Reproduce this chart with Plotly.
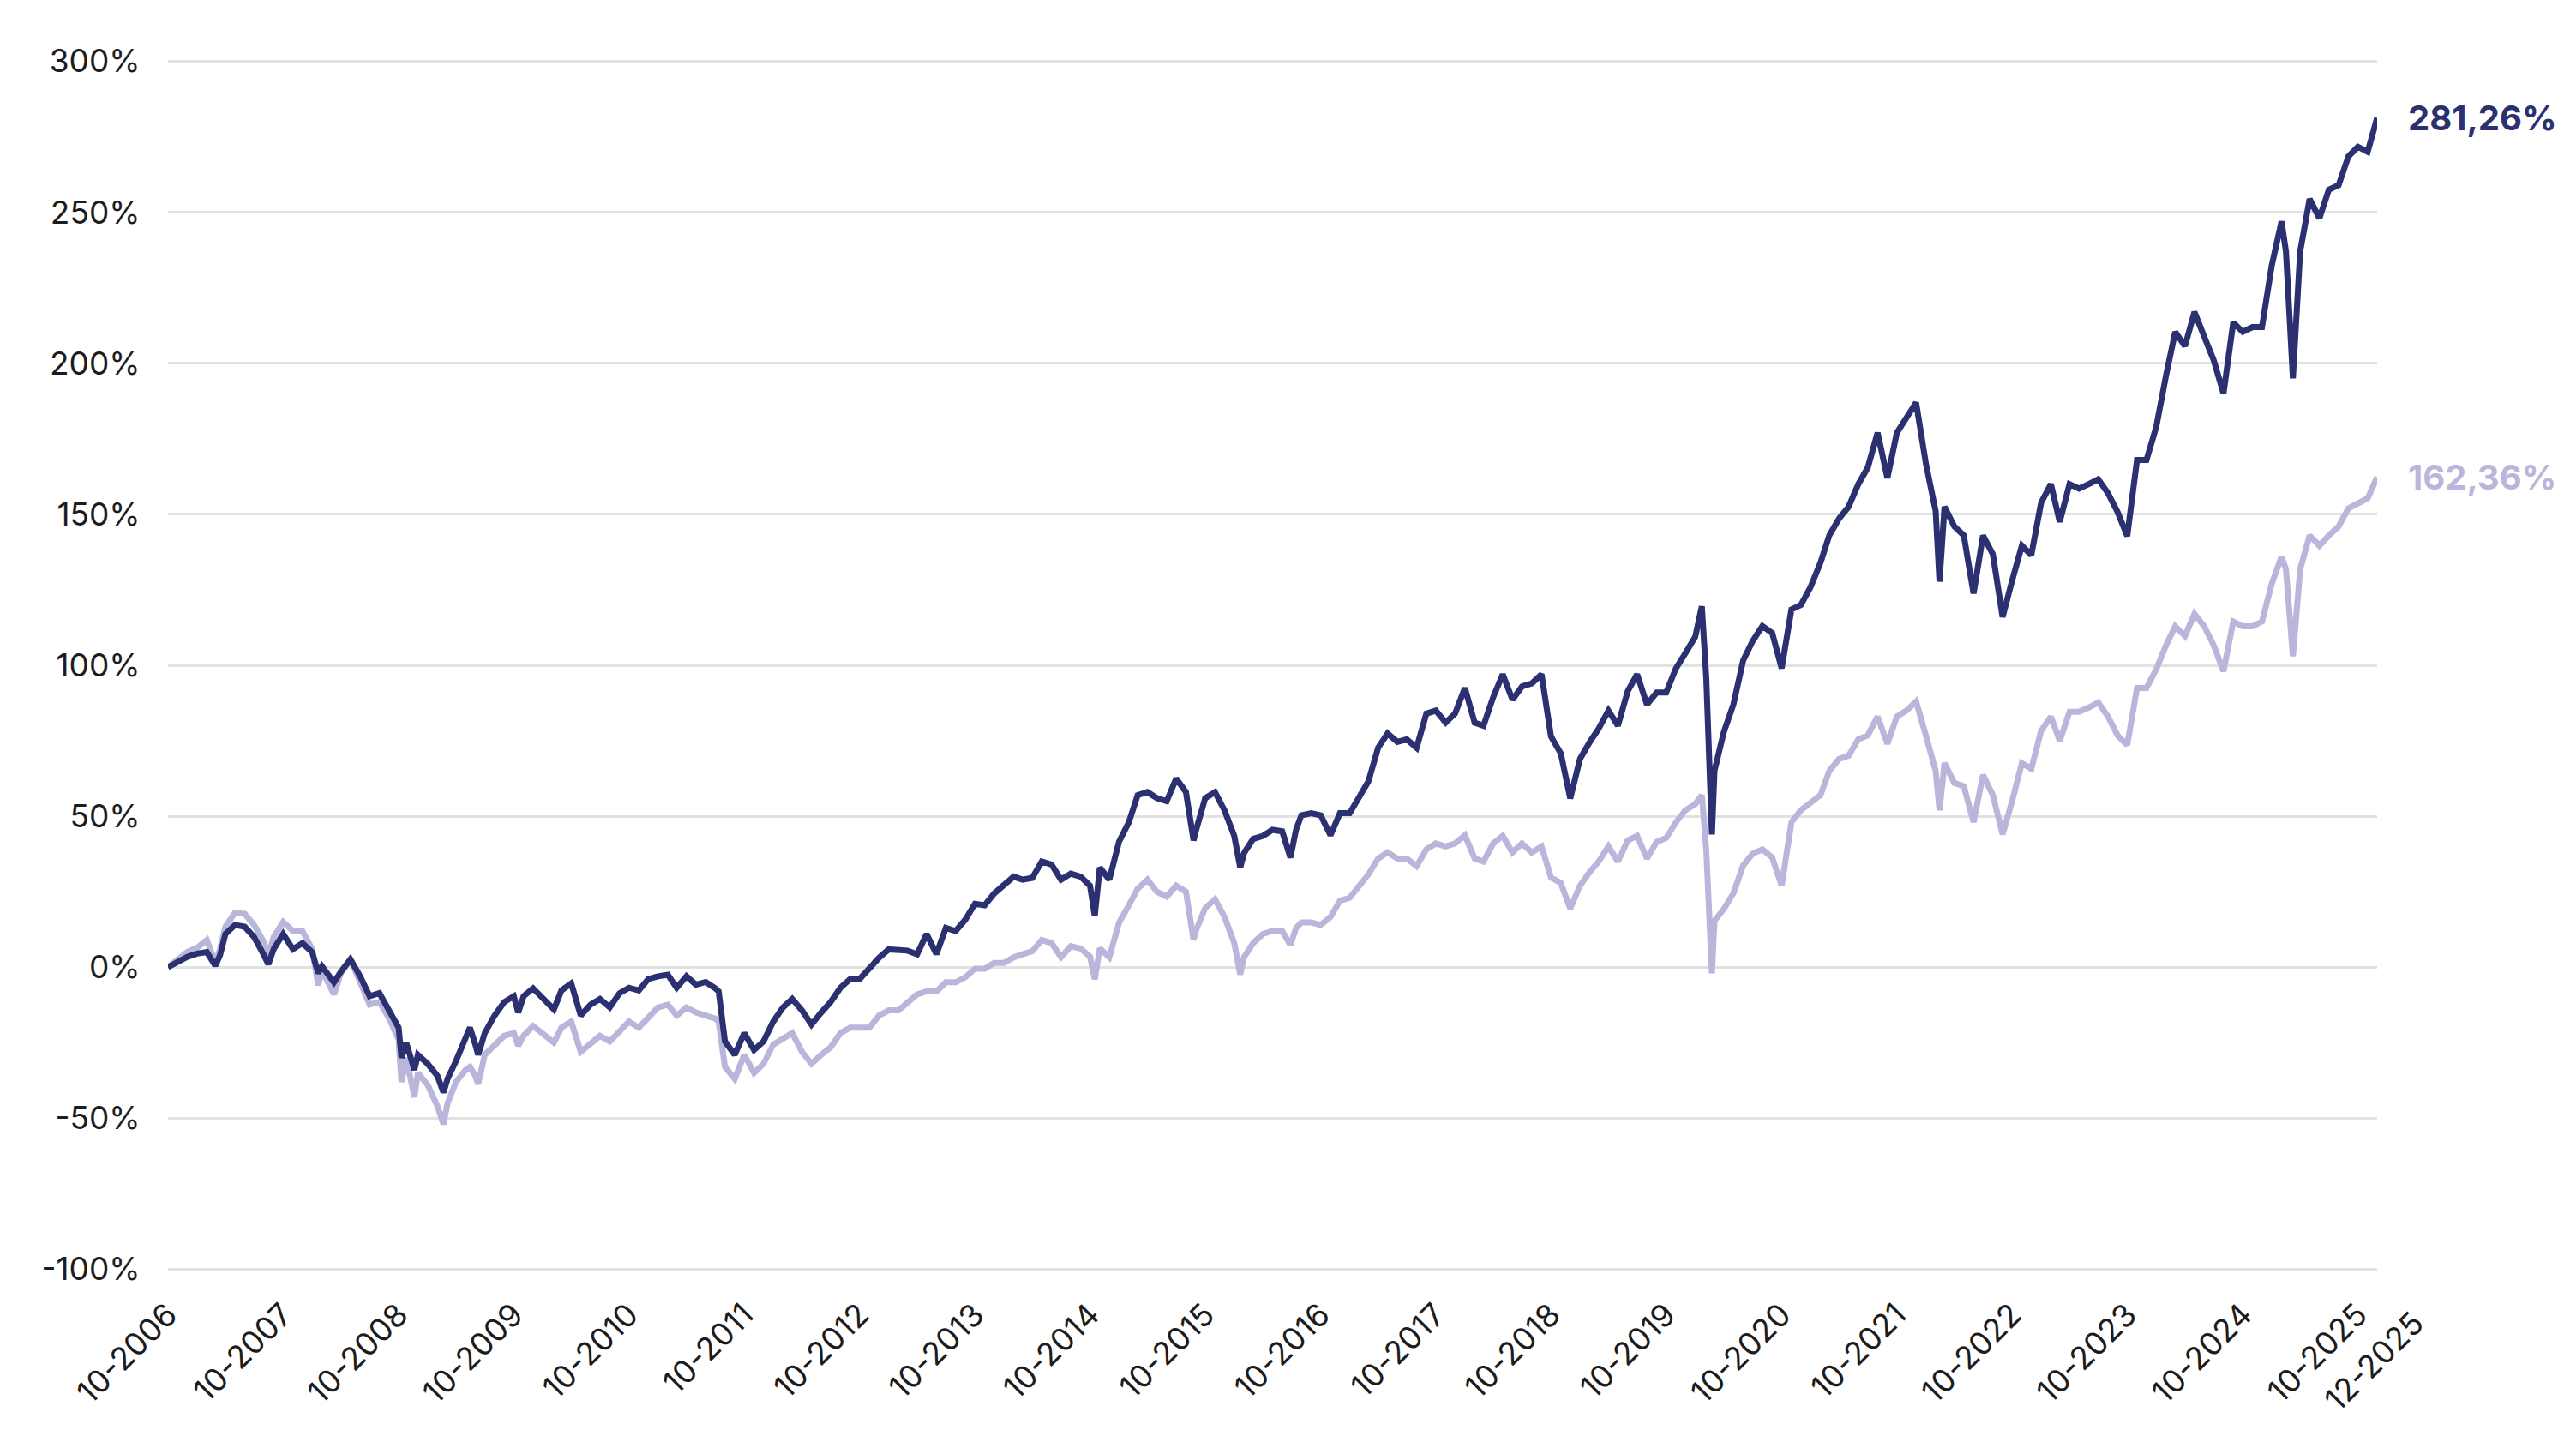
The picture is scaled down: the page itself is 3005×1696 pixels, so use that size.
import plotly.graph_objects as go

# ---- data ----
dates = [
    "2006-10-01","2006-11-01","2006-12-01","2007-01-01","2007-02-01","2007-02-28","2007-03-15",
    "2007-04-01","2007-05-01","2007-06-01","2007-07-01","2007-08-01","2007-08-15","2007-09-01",
    "2007-10-01","2007-11-01","2007-12-01","2008-01-01","2008-01-20","2008-02-01","2008-03-10",
    "2008-04-01","2008-05-01","2008-06-01","2008-07-01","2008-08-01","2008-09-01","2008-10-01",
    "2008-10-10","2008-10-25","2008-11-20","2008-12-01","2009-01-01","2009-02-01","2009-02-20",
    "2009-03-05","2009-04-01","2009-05-01","2009-05-15","2009-06-01","2009-06-10","2009-07-01",
    "2009-08-01","2009-09-01","2009-10-01","2009-10-15","2009-11-01","2009-12-01","2010-01-01",
    "2010-02-05","2010-03-01","2010-04-01","2010-05-01","2010-06-01","2010-07-01","2010-08-01",
    "2010-09-01","2010-10-01","2010-11-01","2010-12-01","2011-01-01","2011-02-01","2011-03-01",
    "2011-04-01","2011-05-01","2011-06-01","2011-07-01","2011-07-12","2011-08-01","2011-09-01",
    "2011-10-01","2011-11-01","2011-12-01","2012-01-01","2012-02-01","2012-03-01","2012-04-01",
    "2012-05-01","2012-06-01","2012-07-01","2012-08-01","2012-09-01","2012-10-01","2012-11-01",
    "2012-12-01","2013-01-01","2013-02-01","2013-03-01","2013-04-01","2013-05-01","2013-06-01",
    "2013-07-01","2013-08-01","2013-09-01","2013-10-01","2013-11-01","2013-12-01","2014-01-01",
    "2014-02-01","2014-03-01","2014-04-01","2014-05-01","2014-06-01","2014-07-01","2014-08-01",
    "2014-09-01","2014-10-01","2014-10-16","2014-11-01","2014-12-01","2015-01-01","2015-02-01",
    "2015-03-01","2015-04-01","2015-05-01","2015-06-01","2015-07-01","2015-08-01","2015-08-25",
    "2015-09-01","2015-10-01","2015-11-01","2015-12-01","2016-01-01","2016-01-20","2016-02-01",
    "2016-03-01","2016-04-01","2016-05-01","2016-06-01","2016-06-27","2016-07-15","2016-08-01",
    "2016-09-01","2016-10-01","2016-11-01","2016-12-01","2017-01-01","2017-02-01","2017-03-01",
    "2017-04-01","2017-05-01","2017-06-01","2017-07-01","2017-08-01","2017-09-01","2017-10-01",
    "2017-11-01","2017-12-01","2018-01-01","2018-02-01","2018-03-01","2018-04-01","2018-05-01",
    "2018-06-01","2018-07-01","2018-08-01","2018-09-01","2018-10-01","2018-11-01","2018-12-01",
    "2019-01-01","2019-02-01","2019-03-01","2019-04-01","2019-05-01","2019-06-01","2019-07-01",
    "2019-08-01","2019-09-01","2019-10-01","2019-11-01","2019-12-01","2020-01-01","2020-01-22",
    "2020-02-05","2020-02-23","2020-03-02","2020-04-01","2020-05-01","2020-06-01","2020-07-01",
    "2020-08-01","2020-09-01","2020-10-01","2020-11-01","2020-12-01","2021-01-01","2021-02-01",
    "2021-03-01","2021-04-01","2021-05-01","2021-06-01","2021-07-01","2021-08-01","2021-09-01",
    "2021-10-01","2021-11-01","2021-12-01","2022-01-01","2022-02-01","2022-02-13","2022-03-01",
    "2022-04-01","2022-05-01","2022-06-01","2022-07-01","2022-08-01","2022-09-01","2022-10-01",
    "2022-11-01","2022-12-01","2023-01-01","2023-02-01","2023-03-01","2023-04-01","2023-05-01",
    "2023-06-01","2023-07-01","2023-08-01","2023-09-01","2023-10-01","2023-11-01","2023-12-01",
    "2024-01-01","2024-02-01","2024-03-01","2024-04-01","2024-05-01","2024-06-01","2024-07-01",
    "2024-08-01","2024-09-01","2024-10-01","2024-11-01","2024-12-01","2025-01-01","2025-02-01",
    "2025-02-15","2025-03-09","2025-03-22","2025-04-01","2025-05-01","2025-06-01","2025-07-01",
    "2025-08-01","2025-09-01","2025-10-01","2025-11-01","2025-12-01",
]

fund = [
    0, 1.7, 3.4, 4.5, 5, 0.5, 4,
    11, 14, 13.4, 10, 4, 1, 6,
    11, 6, 8, 5, -2, 0.3, -5,
    -1.5, 2.6, -3, -9.6, -8.6, -14, -20,
    -30, -25, -34, -29, -32, -36, -41.5,
    -37, -31, -23.7, -20, -25.6, -29, -21.8,
    -16, -11.5, -9.6, -15, -9.6, -7, -10,
    -14, -7.7, -5.4, -16, -12.4, -10.5, -13.3,
    -8.6, -6.8, -7.7, -3.9, -3, -2.5, -6.8,
    -3, -5.8, -4.9, -7, -8, -24.6, -29,
    -21.8, -27.4, -24.6, -18, -13.3, -10.5, -14.3,
    -19, -15, -11.5, -6.8, -3.9, -3.9, -0.2,
    3.1, 5.9, 5.5, 5.5, 4.3, 11, 4.3,
    13, 12, 15.8, 21, 20.5, 24.4, 27,
    30, 29, 29.6, 35, 34, 29, 31,
    30, 27, 17, 33, 29, 41.6, 48,
    57, 58, 56, 55, 62.5, 58, 42,
    45, 56, 58, 52, 43.5, 33, 37.8,
    42.5, 43.5, 45.5, 45, 36.3, 45.6, 50.3,
    51, 50.3, 43.7, 51, 51, 56.8, 61.5,
    72.7, 77.4, 74.6, 75.5, 72.7, 84, 85,
    81, 84, 92.5, 81, 80, 89.5, 97,
    88.6, 93, 94, 97, 76.4, 70.8, 55.9,
    69, 74.6, 79, 85, 80, 91.4, 97,
    87, 91, 91, 99, 104, 109.4, 119.5,
    96, 44, 65, 78, 87, 101.6, 108,
    113, 110.7, 99, 118.5, 120, 126, 134,
    143, 148.6, 152.5, 160, 165.5, 177, 162,
    177, 182, 187, 166.8, 151, 127.7, 152.5,
    146, 143, 123.8, 143, 136.8, 116, 128,
    139.6, 136.5, 153.8, 160, 147.5, 160, 158.5,
    160, 161.6, 157, 150.6, 142.8, 168, 168,
    179, 196, 210.4, 205.7, 217, 208.8, 201,
    190, 213.5, 210.4, 212, 212, 232.4, 247,
    237, 195, 218, 237, 254.4, 248, 257.5,
    259, 268.5, 271.7, 270, 281.26,
]

benchmark = [
    0, 2.6, 5, 6.4, 9, 1.5, 6,
    13.4, 18, 17.7, 14, 8.3, 4, 10,
    15, 12, 12, 6, -6, -1, -9,
    -2, 2.6, -5, -12.4, -11.5, -17, -24,
    -38, -30, -43, -35, -39, -46, -52,
    -45, -38, -34, -33, -36, -38.7, -29,
    -25.6, -22.7, -21.8, -26, -22.7, -19.5, -22,
    -25, -20, -18, -28, -25.6, -22.7, -24.6,
    -20.9, -18, -20, -17, -13.3, -12.4, -16,
    -13.3, -15, -16, -17, -18, -33, -37,
    -29, -35, -32, -25.6, -23.7, -21.8, -28,
    -32, -29, -26.5, -21.8, -20, -20, -20,
    -16, -14.3, -14.3, -12, -9, -8, -8,
    -5, -5, -3.3, -0.5, -0.5, 1.4, 1.4,
    3.3, 4.3, 5.3, 9, 8, 3.3, 7,
    6.2, 3.5, -4, 6.2, 3.3, 14.8, 20.5,
    26, 29, 25, 23.4, 27, 25, 9,
    12, 19.6, 22.5, 16.7, 8, -2.4, 3.3,
    8, 11, 12, 12, 7.3, 13, 14.8,
    14.8, 14, 16.6, 22, 23, 27, 30.7,
    36, 38, 36, 36, 33.5, 39, 41,
    40, 41, 43.7, 36, 35, 41, 43.5,
    38, 41, 38, 40, 29.7, 27.9, 19.4,
    27, 31.6, 35, 40, 35, 42, 43.5,
    36, 41.5, 42.8, 48, 52, 54, 57,
    39, -2, 15.4, 19.3, 24.5, 33.7, 37.6,
    39, 36.3, 27, 48, 52, 54.6, 57,
    65, 69, 70, 75.5, 76.8, 83, 74,
    83, 85, 88, 76.8, 65, 52, 67.6,
    61, 60, 48, 63.7, 57, 44, 55,
    67.6, 65.7, 78.3, 83, 75, 84.6, 84.6,
    86, 87.7, 83, 76.7, 73.6, 92.5, 92.5,
    98.7, 106.6, 112.9, 109.7, 117, 112.9, 106.6,
    98, 114.5, 112.9, 112.9, 114.5, 127, 136,
    131.8, 103, 119, 131.8, 143, 139.6, 143,
    146, 152, 153.8, 155.3, 162.36,
]

x_tick_vals = [f"{y}-10-01" for y in range(2006, 2026)]
x_tick_text = [f"10-{y}" for y in range(2006, 2026)]
last_tick_text = "12-2025"
y_tick_vals = [-100, -50, 0, 50, 100, 150, 200, 250, 300]
y_tick_text = ["-100%", "-50%", "0%", "50%", "100%", "150%", "200%", "250%", "300%"]
end_labels = ["281,26%", "162,36%"]

DARK = "#2b3070"
LIGHT = "#bab6db"
FONT = "Inter"
TXT = "#1c1c1c"

fig = go.Figure()
fig.add_trace(go.Scatter(x=dates, y=benchmark, mode="lines",
                         line=dict(color=LIGHT, width=7), showlegend=False))
fig.add_trace(go.Scatter(x=dates, y=fund, mode="lines",
                         line=dict(color=DARK, width=7), showlegend=False))

fig.add_annotation(x=dates[-1], y=fund[-1], text=f"<b>{end_labels[0]}</b>",
                   showarrow=False, xanchor="left", yanchor="middle", xshift=34,
                   font=dict(family=FONT, size=40, color=DARK))
fig.add_annotation(x=dates[-1], y=benchmark[-1], text=f"<b>{end_labels[1]}</b>",
                   showarrow=False, xanchor="left", yanchor="middle", xshift=34,
                   font=dict(family=FONT, size=40, color=LIGHT))
# last date label, set off to the right of the axis end as in the reference
fig.add_annotation(x=dates[-1], y=0, xref="x", yref="paper", text=last_tick_text,
                   showarrow=False, textangle=-45, xanchor="right", yanchor="top",
                   xshift=66, yshift=-34, font=dict(family=FONT, size=37, color=TXT))

fig.update_layout(
    width=2997, height=1688,
    margin=dict(l=188, r=232, t=59.5, b=211.5),
    paper_bgcolor="white", plot_bgcolor="white",
    font=dict(family=FONT, size=37, color=TXT),
)
fig.update_xaxes(
    type="date", range=[dates[0], dates[-1]],
    tickmode="array", tickvals=x_tick_vals, ticktext=x_tick_text,
    tickangle=-45, showgrid=False, zeroline=False, showline=False,
    ticks="outside", ticklen=12, tickcolor="rgba(0,0,0,0)",
    tickfont=dict(family=FONT, size=37, color=TXT),
)
fig.update_yaxes(
    range=[-101, 301], tickmode="array", tickvals=y_tick_vals, ticktext=y_tick_text,
    showgrid=True, gridcolor="#e2e2e2", gridwidth=2.5, zeroline=False, showline=False,
    ticks="outside", ticklen=24, tickcolor="rgba(0,0,0,0)",
    tickfont=dict(family=FONT, size=37, color=TXT),
)

fig.write_html("out.html")
